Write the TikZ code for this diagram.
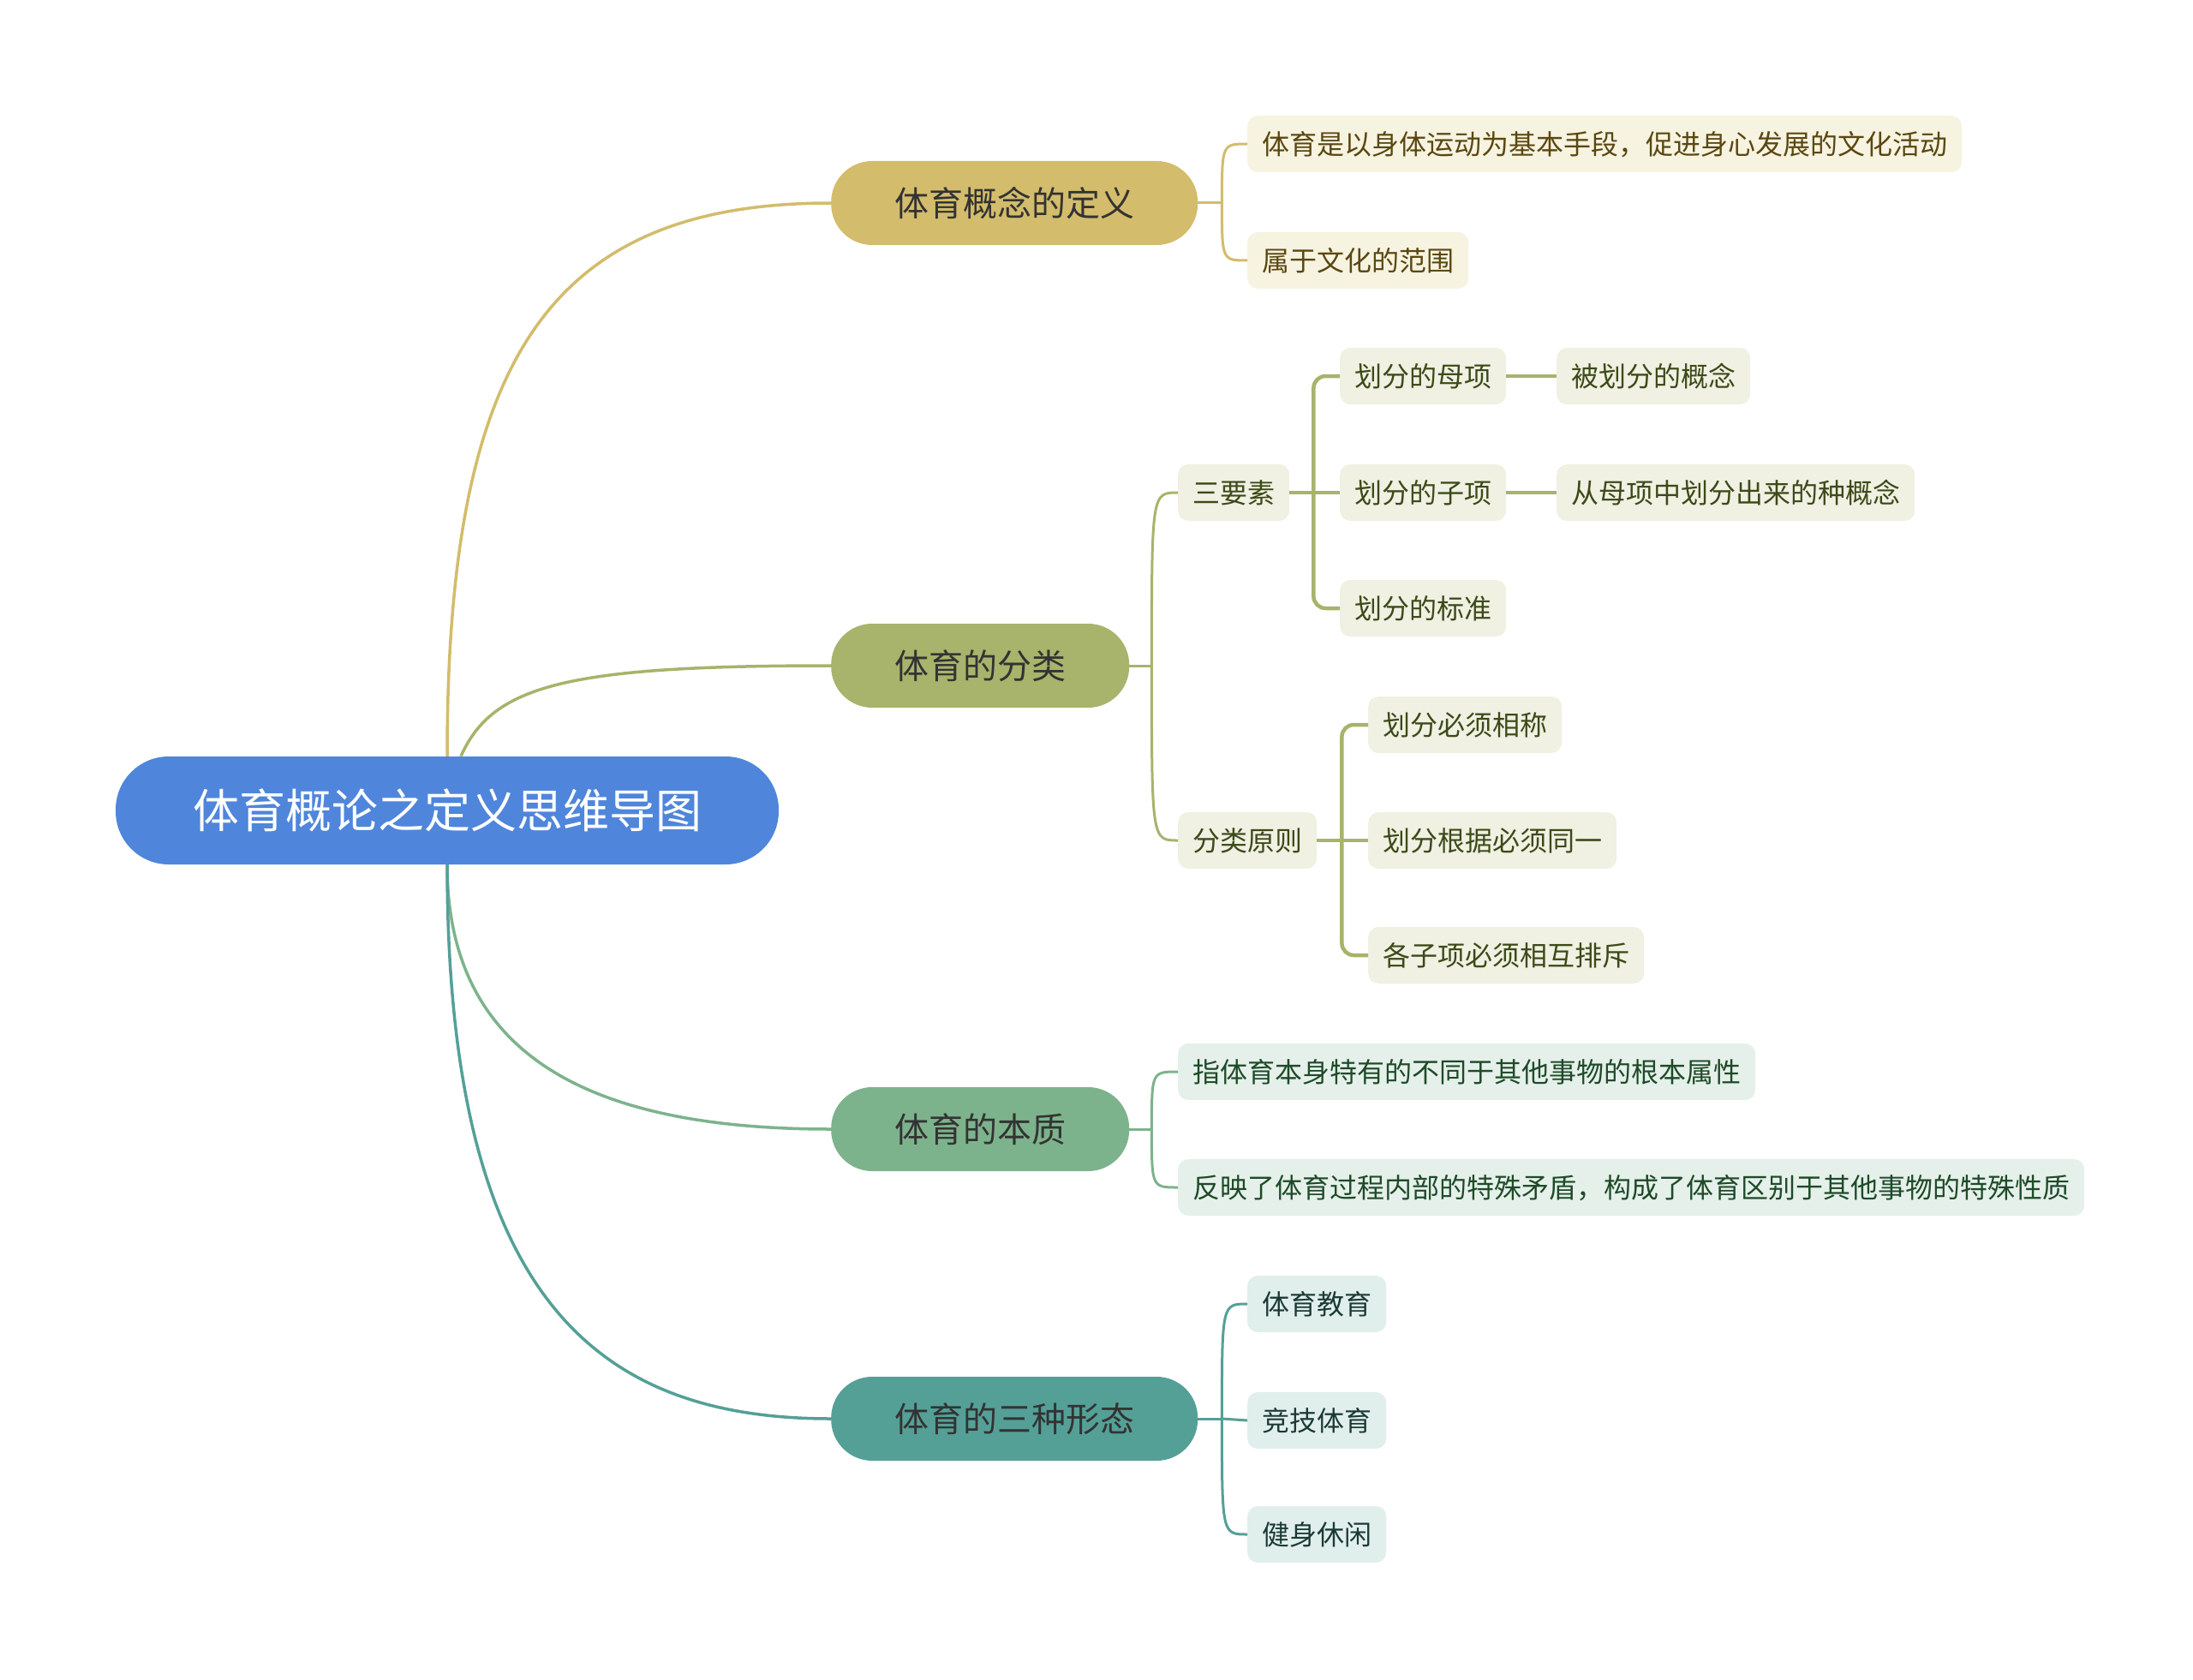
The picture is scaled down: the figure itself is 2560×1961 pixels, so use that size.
\documentclass[tikz,border=0pt]{standalone}
\usepackage{fontspec}
\setmainfont{Noto Sans CJK SC}
\definecolor{rootc}{HTML}{4F86DB}
\definecolor{c1}{HTML}{D3BC6B}
\definecolor{c2}{HTML}{A8B36B}
\definecolor{c3}{HTML}{7DB38C}
\definecolor{c4}{HTML}{54A097}
\definecolor{f1}{HTML}{F7F3E1}
\definecolor{t1}{HTML}{5A4710}
\definecolor{f2}{HTML}{F0F0E3}
\definecolor{t2}{HTML}{3C4A18}
\definecolor{f3}{HTML}{E5F0EA}
\definecolor{t3}{HTML}{1E4A28}
\definecolor{f4}{HTML}{E1EFEC}
\definecolor{t4}{HTML}{1C3A35}
\definecolor{brtext}{HTML}{333333}
\begin{document}
\begin{tikzpicture}[x=1pt,y=-1pt,
 rootbox/.style={inner ysep=0pt, text height=47.5pt, text depth=6.5pt, fill=rootc, text=white, font=\fontsize{54}{54}\selectfont, minimum height=126pt, rounded corners=62pt, inner xsep=90pt},
 brbox/.style={inner ysep=0pt, text height=35.2pt, text depth=4.8pt, font=\fontsize{40}{40}\selectfont, text=brtext, minimum height=98pt, rounded corners=48pt, inner xsep=74pt, anchor=west},
 leafbox/.style={inner ysep=0pt, text height=28.2pt, text depth=3.8pt, font=\fontsize{32}{32}\selectfont, minimum height=66pt, rounded corners=12pt, inner xsep=17pt, anchor=west},
 lf1/.style={leafbox, fill=f1, text=t1},
 lf2/.style={leafbox, fill=f2, text=t2},
 lf3/.style={leafbox, fill=f3, text=t3},
 lf4/.style={leafbox, fill=f4, text=t4},
 mainline/.style={line width=3.5pt},
 subline/.style={line width=3pt},
 thirdline/.style={line width=4.5pt, rounded corners=14pt},
]
\useasboundingbox (0,0) rectangle (2560,1961);
% root and main branches
\node[rootbox] (r) at (522,946) {体育概论之定义思维导图};
\node[brbox, fill=c1] (b1) at (970,237) {体育概念的定义};
\node[brbox, fill=c2] (b2) at (970,777) {体育的分类};
\node[brbox, fill=c3] (b3) at (970,1318) {体育的本质};
\node[brbox, fill=c4] (b4) at (970,1656) {体育的三种形态};
% branch 1 leaves
\node[lf1] (l1a) at (1456,168) {体育是以身体运动为基本手段，促进身心发展的文化活动};
\node[lf1] (l1b) at (1456,304) {属于文化的范围};
% branch 2
\node[lf2] (s1) at (1375,575) {三要素};
\node[lf2] (s2) at (1375,981) {分类原则};
\node[lf2] (m1) at (1564,439) {划分的母项};
\node[lf2] (m2) at (1564,575) {划分的子项};
\node[lf2] (m3) at (1564,710) {划分的标准};
\node[lf2] (n1) at (1817,439) {被划分的概念};
\node[lf2] (n2) at (1817,575) {从母项中划分出来的种概念};
\node[lf2] (p1) at (1597,846) {划分必须相称};
\node[lf2] (p2) at (1597,981) {划分根据必须同一};
\node[lf2] (p3) at (1597,1115) {各子项必须相互排斥};
% branch 3
\node[lf3] (e1) at (1375,1251) {指体育本身特有的不同于其他事物的根本属性};
\node[lf3] (e2) at (1375,1386) {反映了体育过程内部的特殊矛盾，构成了体育区别于其他事物的特殊性质};
% branch 4
\node[lf4] (g1) at (1456,1522) {体育教育};
\node[lf4] (g2) at (1456,1658) {竞技体育};
\node[lf4] (g3) at (1456,1791) {健身休闲};
% root connectors
\draw[c1, mainline] (r.north) .. controls (522,420) and (640,237) .. (b1.west);
\draw[c2, mainline] ([xshift=16pt]r.north) .. controls (575,800) and (660,777) .. (b2.west);
\draw[c3, mainline] (r.south) .. controls (522,1240) and (700,1318) .. (b3.west);
\draw[c4, mainline] (r.south) .. controls (522,1520) and (700,1656) .. (b4.west);
% branch 1 connectors
\coordinate (j1) at ([xshift=28pt]b1.east);
\draw[c1, subline] (b1.east) -- (j1);
\draw[c1, subline] (j1) .. controls (j1 |- l1a.west) .. (l1a.west);
\draw[c1, subline] (j1) .. controls (j1 |- l1b.west) .. (l1b.west);
% branch 2 connectors
\coordinate (j2) at ([xshift=26pt]b2.east);
\draw[c2, subline] (b2.east) -- (j2);
\draw[c2, subline] (j2) .. controls (j2 |- s1.west) .. (s1.west);
\draw[c2, subline] (j2) .. controls (j2 |- s2.west) .. (s2.west);
\coordinate (js1) at ([xshift=28pt]s1.east);
\draw[c2, thirdline] (s1.east) -- (js1);
\draw[c2, thirdline] (js1) |- (m1.west);
\draw[c2, thirdline] (js1) -- (m2.west);
\draw[c2, thirdline] (js1) |- (m3.west);
\draw[c2, thirdline] (m1.east) -- (n1.west);
\draw[c2, thirdline] (m2.east) -- (n2.west);
\coordinate (js2) at ([xshift=29pt]s2.east);
\draw[c2, thirdline] (s2.east) -- (js2);
\draw[c2, thirdline] (js2) |- (p1.west);
\draw[c2, thirdline] (js2) -- (p2.west);
\draw[c2, thirdline] (js2) |- (p3.west);
% branch 3 connectors
\coordinate (j3) at ([xshift=26pt]b3.east);
\draw[c3, subline] (b3.east) -- (j3);
\draw[c3, subline] (j3) .. controls (j3 |- e1.west) .. (e1.west);
\draw[c3, subline] (j3) .. controls (j3 |- e2.west) .. (e2.west);
% branch 4 connectors
\coordinate (j4) at ([xshift=28pt]b4.east);
\draw[c4, subline] (b4.east) -- (j4);
\draw[c4, subline] (j4) .. controls (j4 |- g1.west) .. (g1.west);
\draw[c4, subline] (j4) -- (g2.west);
\draw[c4, subline] (j4) .. controls (j4 |- g3.west) .. (g3.west);
\end{tikzpicture}
\end{document}
